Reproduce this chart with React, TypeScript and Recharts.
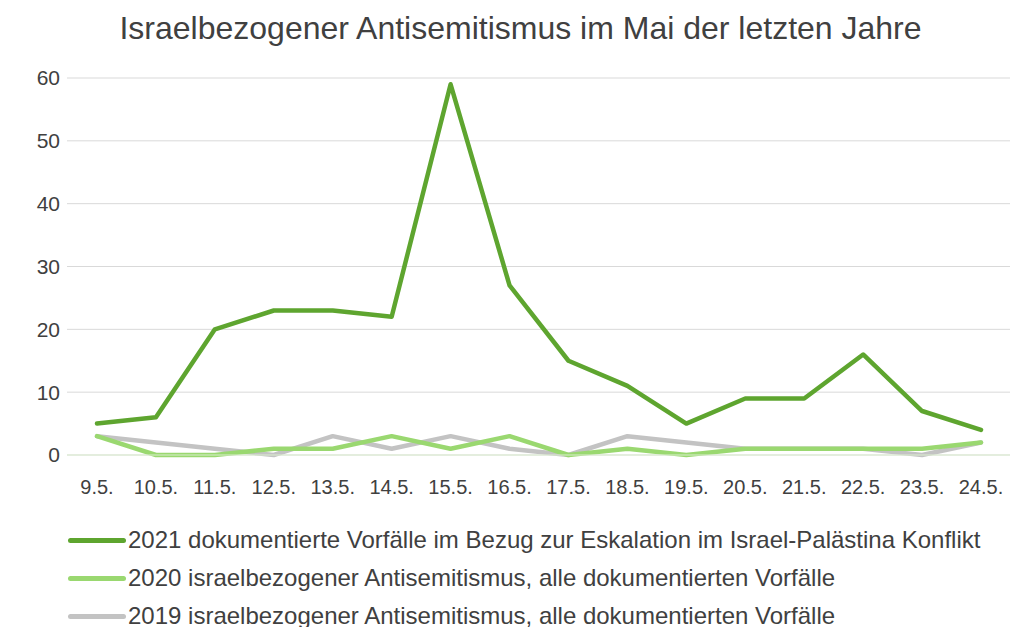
import { LineChart, Line, XAxis, YAxis, CartesianGrid } from 'recharts';

const days = ['9.5.', '10.5.', '11.5.', '12.5.', '13.5.', '14.5.', '15.5.', '16.5.', '17.5.', '18.5.', '19.5.', '20.5.', '21.5.', '22.5.', '23.5.', '24.5.'];
const y2021 = [5, 6, 20, 23, 23, 22, 59, 27, 15, 11, 5, 9, 9, 16, 7, 4];
const y2020 = [3, 0, 0, 1, 1, 3, 1, 3, 0, 1, 0, 1, 1, 1, 1, 2];
const y2019 = [3, 2, 1, 0, 3, 1, 3, 1, 0, 3, 2, 1, 1, 1, 0, 2];
const yTicks = [0, 10, 20, 30, 40, 50, 60];

const seriesInfo = [
  { key: 'y2021', color: '#5ea52f', label: '2021 dokumentierte Vorfälle im Bezug zur Eskalation im Israel-Palästina Konflikt' },
  { key: 'y2020', color: '#9ad870', label: '2020 israelbezogener Antisemitismus, alle dokumentierten Vorfälle' },
  { key: 'y2019', color: '#c3c3c3', label: '2019 israelbezogener Antisemitismus, alle dokumentierten Vorfälle' },
];

const data = days.map((d, i) => ({ day: d, y2021: y2021[i], y2020: y2020[i], y2019: y2019[i] }));

const font = '"Liberation Sans", Arial, sans-serif';

export default function App() {
  return (
    <div style={{ position: 'absolute', left: 0, top: 0, width: 1010, height: 627, background: '#fff', fontFamily: font, overflow: 'hidden' }}>
      <div style={{ position: 'absolute', left: 0, top: 9, width: 1041, textAlign: 'center', fontSize: 32, lineHeight: '38px', color: '#404040' }}>
        Israelbezogener Antisemitismus im Mai der letzten Jahre
      </div>
      <LineChart width={1010} height={627} data={data} margin={{ top: 78, right: 0, left: 10, bottom: 142 }}>
        <CartesianGrid horizontal vertical={false} stroke="#d9d9d9" strokeWidth={1} />
        <XAxis
          dataKey="day"
          axisLine={{ stroke: '#dcefd0' }}
          tickLine={false}
          tickMargin={19}
          height={30}
          interval={0}
          padding={{ left: 30, right: 29 }}
          tick={{ fill: '#404040', fontSize: 20, fontFamily: font }}
        />
        <YAxis
          domain={[0, 60]}
          ticks={yTicks}
          width={57}
          axisLine={false}
          tickLine={false}
          tickMargin={1}
          tick={{ fill: '#404040', fontSize: 21, fontFamily: font }}
        />
        {[...seriesInfo].reverse().map((s) => (
          <Line
            key={s.key}
            type="linear"
            dataKey={s.key}
            stroke={s.color}
            strokeWidth={4.5}
            dot={false}
            strokeLinejoin="round"
            strokeLinecap="round"
            isAnimationActive={false}
          />
        ))}
      </LineChart>
      {seriesInfo.map((s, i) => (
        <div key={s.key} style={{ position: 'absolute', left: 68, top: 526 + i * 38, height: 28, display: 'flex', alignItems: 'center', fontSize: 24, color: '#404040', whiteSpace: 'nowrap' }}>
          <span style={{ display: 'inline-block', width: 58, height: 5, borderRadius: 3, background: s.color, marginRight: 2 }} />
          {s.label}
        </div>
      ))}
    </div>
  );
}
